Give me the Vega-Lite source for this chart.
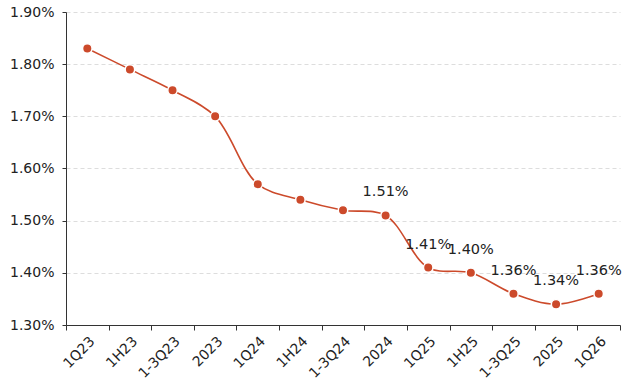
{
  "$schema": "https://vega.github.io/schema/vega-lite/v6.json",
  "width": 554,
  "height": 313,
  "autosize": {"type": "none"},
  "padding": {"left": 66, "top": 12, "right": 3, "bottom": 60},
  "background": "white",
  "config": {
    "view": {"stroke": null},
    "font": "DejaVu Sans"
  },
  "data": {
    "values": [
      {"period": "1Q23", "rate": 1.83},
      {"period": "1H23", "rate": 1.79},
      {"period": "1-3Q23", "rate": 1.75},
      {"period": "2023", "rate": 1.70},
      {"period": "1Q24", "rate": 1.57},
      {"period": "1H24", "rate": 1.54},
      {"period": "1-3Q24", "rate": 1.52},
      {"period": "2024", "rate": 1.51},
      {"period": "1Q25", "rate": 1.41},
      {"period": "1H25", "rate": 1.40},
      {"period": "1-3Q25", "rate": 1.36},
      {"period": "2025", "rate": 1.34},
      {"period": "1Q26", "rate": 1.36}
    ]
  },
  "encoding": {
    "x": {
      "field": "period",
      "type": "ordinal",
      "sort": null,
      "bandPosition": 0.5,
      "scale": {"type": "band", "paddingInner": 0, "paddingOuter": 0},
      "axis": {"title": null, "labelAngle": -45, "labelFont": "DejaVu Sans", "labelFontSize": 14, "labelColor": "#222222", "domainColor": "#333333", "tickColor": "#333333", "tickBand": "extent", "tickSize": 5, "grid": false, "labelPadding": 4}
    },
    "y": {
      "field": "rate",
      "type": "quantitative",
      "scale": {"domain": [1.3, 1.9], "nice": false, "zero": false},
      "axis": {"title": null, "values": [1.3, 1.4, 1.5, 1.6, 1.7, 1.8, 1.9], "labelOverlap": false, "labelExpr": "format(datum.value, '.2f') + '%'", "labelFont": "DejaVu Sans", "labelFontSize": 14, "labelColor": "#222222", "domainColor": "#333333", "tickColor": "#333333", "tickSize": 4, "labelPadding": 8, "grid": true, "gridColor": "#dddddd", "gridDash": [4, 3], "gridWidth": 1}
    }
  },
  "layer": [
    {
      "mark": {"type": "line", "interpolate": "catmull-rom", "color": "#CC4A2B", "strokeWidth": 1.6}
    },
    {
      "mark": {"type": "point", "filled": true, "opacity": 1, "fill": "#CC4A2B", "stroke": "white", "strokeWidth": 1.5, "strokeOpacity": 1, "size": 90}
    },
    {
      "transform": [
        {"filter": {"field": "period", "oneOf": ["2024", "1Q25", "1H25", "1-3Q25", "2025", "1Q26"]}},
        {"calculate": "format(datum.rate, '.2f') + '%'", "as": "label"}
      ],
      "mark": {"type": "text", "dy": -23, "fontSize": 14.5, "color": "#222222", "font": "DejaVu Sans"},
      "encoding": {"text": {"field": "label", "type": "nominal"}}
    }
  ]
}
